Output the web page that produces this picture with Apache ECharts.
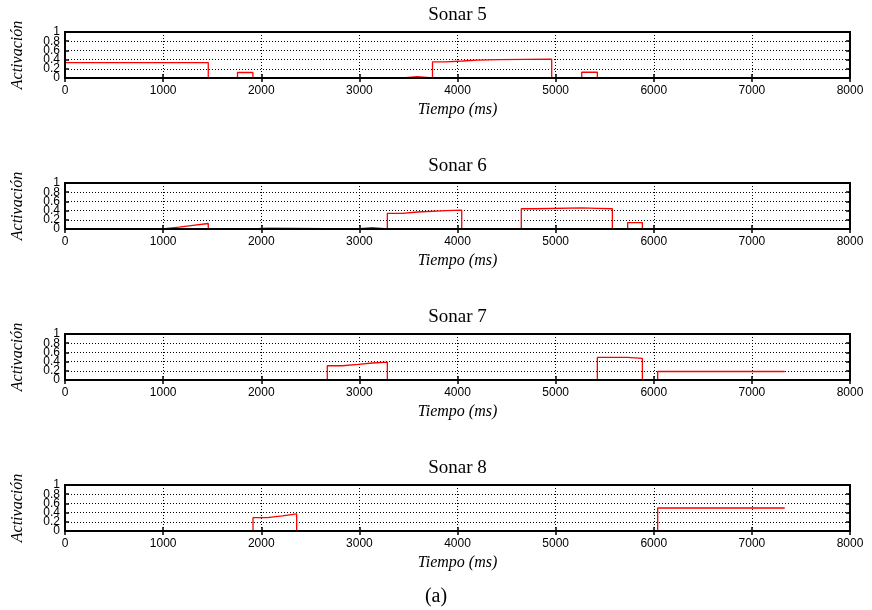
<!DOCTYPE html>
<html>
<head>
<meta charset="utf-8">
<title>Sonar 5-8</title>
<script src="https://cdn.jsdelivr.net/npm/echarts@6/dist/echarts.min.js"></script>
<style>
  html, body { margin: 0; padding: 0; background: #fff; }
  #chart { width: 872px; height: 610px; }
</style>
</head>
<body>
<div id="chart"></div>
<script>
// Panel titles
const sonarNames = ['Sonar 5', 'Sonar 6', 'Sonar 7', 'Sonar 8'];

// Step activations: each value holds from its time until the next time (ms)
const sonar5Time = [0, 1460, 1758, 1915, 3440, 3590, 3745, 3885, 4050, 4200, 4420, 4960, 5266, 5425, 7335];
const sonar5Act  = [0.335, 0, 0.12, 0, 0.03, 0, 0.35, 0.37, 0.39, 0.40, 0.41, 0, 0.125, 0, 0];

const sonar6Time = [0, 993, 1162, 1304, 1460, 1910, 2062, 2970, 3132, 3285, 3438, 3591, 3886, 4043, 4650, 4797, 5272, 5425, 5578, 5734, 5884, 7335];
const sonar6Act  = [0, 0.04, 0.08, 0.12, 0, 0.02, 0, 0.03, 0, 0.34, 0.37, 0.40, 0.41, 0, 0.44, 0.46, 0.45, 0.44, 0, 0.14, 0, 0];

const sonar7Time = [0, 2673, 2826, 2989, 3132, 3285, 5425, 5731, 5884, 6040, 7335];
const sonar7Act  = [0, 0.31, 0.34, 0.37, 0.39, 0, 0.49, 0.47, 0, 0.185, 0.185];

const sonar8Time = [0, 1916, 2062, 2215, 2361, 6040, 7335];
const sonar8Act  = [0, 0.29, 0.33, 0.37, 0, 0.50, 0.50];

const sonarTimes = [sonar5Time, sonar6Time, sonar7Time, sonar8Time];
const sonarActs  = [sonar5Act, sonar6Act, sonar7Act, sonar8Act];

// Axis ranges and labels
const timeMin = 0, timeMax = 8000, timeStep = 1000;
const actMin = 0, actMax = 1, actStep = 0.2;
const actTickLabels = ['0', '0.2', '0.4', '0.6', '0.8', '1'];
const xAxisTitle = 'Tiempo (ms)';
const yAxisTitle = 'Activación';
const caption = '(a)';

// Expand (time, value) pairs into a staircase: hold each value until the next time
function staircase(times, acts) {
  const pts = [];
  for (let k = 0; k < times.length; k++) {
    if (k > 0) pts.push([times[k], acts[k - 1]]);
    pts.push([times[k], acts[k]]);
  }
  return pts;
}

// The activation labels sit closer together than their glyph height, so they are
// split over two coincident axes (even / odd ticks) to keep every one of them drawn.
function actLabel(parity) {
  return function (v) {
    const idx = Math.round((v - actMin) / actStep);
    return idx % 2 === parity ? actTickLabels[idx] : '';
  };
}

const chart = echarts.init(document.getElementById('chart'), null, { renderer: 'canvas' });

const gridTops = [32, 183, 334, 485];
const plotLeft = 65, plotRight = 22, plotHeight = 46;
const plotCenterX = plotLeft + (872 - plotLeft - plotRight) / 2;

const serif = '"Liberation Serif", "DejaVu Serif", serif';
const sans = '"Liberation Sans", Arial, sans-serif';

const grids = [], xAxes = [], yAxes = [], series = [], graphics = [];

gridTops.forEach((top, i) => {
  // frame drawn above the curves so zero stretches sit under the black border
  grids.push({
    left: plotLeft, right: plotRight, top: top, height: plotHeight,
    show: true, borderColor: '#000', borderWidth: 2, backgroundColor: 'transparent', z: 6
  });

  const tickStyle = { show: true, inside: true, length: 4, lineStyle: { color: '#000', width: 1.5 } };
  const gridDots = { show: true, lineStyle: { color: '#000', type: [1, 2], width: 1 } };
  const yLabelStyle = { color: '#000', fontFamily: sans, fontSize: 12, margin: 5 };

  // bottom time axis with labels and dotted grid
  xAxes.push({
    type: 'value', gridIndex: i, position: 'bottom',
    min: timeMin, max: timeMax, interval: timeStep,
    axisLine: { show: false },
    axisTick: tickStyle,
    splitLine: gridDots,
    axisLabel: {
      color: '#000', fontFamily: sans, fontSize: 12, margin: 7,
      showMinLabel: true, showMaxLabel: true,
      formatter: v => String(v)
    },
    name: xAxisTitle, nameLocation: 'middle', nameGap: 24,
    nameTextStyle: { fontFamily: serif, fontStyle: 'italic', fontSize: 16, color: '#000' }
  });
  // mirrored ticks on top edge
  xAxes.push({
    type: 'value', gridIndex: i, position: 'top',
    min: timeMin, max: timeMax, interval: timeStep,
    axisLine: { show: false }, axisTick: tickStyle,
    splitLine: { show: false }, axisLabel: { show: false }
  });
  // left activation axis: dotted grid, ticks, name and the 0 / 0.4 / 0.8 labels
  yAxes.push({
    type: 'value', gridIndex: i, position: 'left',
    min: actMin, max: actMax, interval: actStep,
    axisLine: { show: false }, axisTick: tickStyle,
    splitLine: gridDots,
    axisLabel: Object.assign({ showMinLabel: true, showMaxLabel: false, formatter: actLabel(0) }, yLabelStyle),
    name: yAxisTitle, nameLocation: 'middle', nameGap: 39,
    nameTextStyle: { fontFamily: serif, fontStyle: 'italic', fontSize: 16, color: '#000' }
  });
  // coincident left axis carrying the 0.2 / 0.6 / 1 labels
  yAxes.push({
    type: 'value', gridIndex: i, position: 'left', offset: 0,
    min: actMin, max: actMax, interval: actStep,
    axisLine: { show: false }, axisTick: { show: false }, splitLine: { show: false },
    axisLabel: Object.assign({ showMinLabel: false, showMaxLabel: true, formatter: actLabel(1) }, yLabelStyle)
  });
  // mirrored ticks on right edge
  yAxes.push({
    type: 'value', gridIndex: i, position: 'right',
    min: actMin, max: actMax, interval: actStep,
    axisLine: { show: false }, axisTick: tickStyle,
    splitLine: { show: false }, axisLabel: { show: false }
  });

  series.push({
    type: 'line', name: sonarNames[i],
    xAxisIndex: i * 2, yAxisIndex: i * 3,
    showSymbol: false, symbol: 'none',
    lineStyle: { color: '#ff0000', width: 1.3 },
    itemStyle: { color: '#ff0000' },
    data: staircase(sonarTimes[i], sonarActs[i]),
    z: 5
  });

  graphics.push({
    type: 'text', x: plotCenterX, y: top - 17,
    style: { text: sonarNames[i], font: '19px ' + serif, fill: '#000', textAlign: 'center', textVerticalAlign: 'middle' }
  });
});

graphics.push({
  type: 'text', x: 436, y: 597,
  style: { text: caption, font: '20px ' + serif, fill: '#000', textAlign: 'center', textVerticalAlign: 'middle' }
});

chart.setOption({
  animation: false,
  backgroundColor: '#fff',
  grid: grids,
  xAxis: xAxes,
  yAxis: yAxes,
  series: series,
  graphic: graphics
});
</script>
</body>
</html>
